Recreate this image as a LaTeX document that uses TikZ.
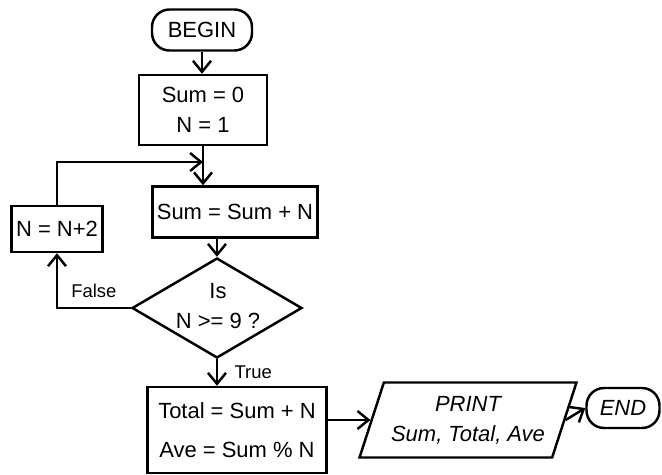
\documentclass[tikz,border=0pt]{standalone}
\usepackage{fontspec}
\setmainfont{Liberation Sans}
\usetikzlibrary{shapes.geometric,arrows.meta}
\newcommand\hand{\fontsize{12.5}{15}\selectfont}
\newcommand\handsmall{\fontsize{10.5}{12}\selectfont}

\begin{document}
\begin{tikzpicture}[x=0.02cm,y=-0.02cm,line width=1.4pt,
    >={Straight Barb[length=2.2mm,width=3.6mm]},font=\hand,
    term/.style={draw,rounded corners=3.5mm,inner sep=0pt},
    proc/.style={draw,align=center,inner sep=0pt},
    decision/.style={draw,diamond,inner sep=0pt,minimum width=3.4cm,minimum height=2cm},
    io/.style={draw,trapezium,trapezium left angle=63,trapezium right angle=117,
      trapezium stretches body,inner sep=0pt,align=center}]
  \useasboundingbox (0,0) rectangle (662,474);

  \node[term,minimum width=2cm,minimum height=0.82cm] (begin) at (202,30) {BEGIN};
  \node[proc,minimum width=2.56cm,minimum height=1.4cm] (init) at (203,110) {Sum = 0\\[2pt]N = 1};
  \node[proc,minimum width=3.3cm,minimum height=1.02cm] (add) at (235,212) {Sum = Sum + N};
  \node[decision] (test) at (217,308) {};
  \node[align=center] (cond) at (218,306) {Is\\[2pt]N >= 9 ?};
  \node[proc,minimum width=1.82cm,minimum height=0.92cm] (incr) at (57,229) {N = N+2};
  \node[proc,minimum width=3.58cm,minimum height=1.72cm] (total) at (237,430)
      {Total = Sum + N\\[7pt]Ave = Sum \% N};
  \node[io,minimum width=4.34cm,minimum height=1.5cm,font=\hand\itshape] (print) at (468,420)
      {PRINT\\[2pt]Sum, Total, Ave};
  \node[term,minimum width=1.46cm,minimum height=0.8cm,font=\hand\itshape] (end) at (623,408) {END};
  \coordinate (merge) at (203,162);

  \draw[->] (begin.south) -- (begin.south |- init.north);
  \draw (init.south) -- (merge);
  \draw[->] (merge) -- (merge |- add.north);
  \draw[->] (incr.north) |- (merge);
  \draw[->] (test.north |- add.south) -- (test.north);
  \draw[->] (test.west) -| (incr.south) node[pos=0.25,above=2pt,font=\handsmall] {False};
  \draw[->] (test.south) -- (test.south |- total.north)
      node[midway,right=6pt,font=\handsmall] {True};
  \draw[->] (print.west -| total.east) -- (print.west);
  \draw[->] (print.east) -- (end.west);
\end{tikzpicture}
\end{document}
